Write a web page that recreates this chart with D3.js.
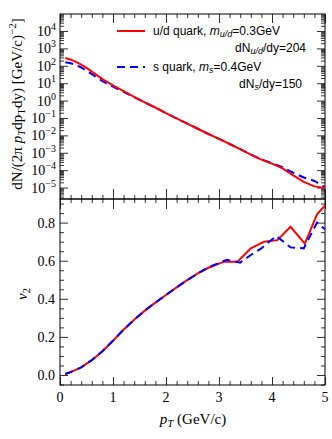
<!DOCTYPE html>
<html>
<head>
<meta charset="utf-8">
<script src="https://cdn.jsdelivr.net/npm/d3@7"></script>
<style>
  body { margin: 0; background: #fff; }
  svg { display: block; }
  .serif { font-family: "Liberation Serif", "Times New Roman", serif; }
  .sans { font-family: "Liberation Sans", Arial, sans-serif; }
</style>
</head>
<body>
<svg id="chart" width="332" height="439"></svg>
<script>
// spectra
var ptSpec = [0.1, 0.2, 0.3, 0.4, 0.5, 0.6, 0.8, 1.0, 1.2, 1.4, 1.6, 1.8, 2.0, 2.2, 2.4, 2.6,
    2.8, 3.0, 3.2, 3.4, 3.6, 3.8, 4.0, 4.2, 4.4, 4.6, 4.8, 5.0];
var specUD = [280, 225, 170, 118, 76, 46, 17, 7.6, 3.5, 1.66, 0.79, 0.40, 0.19, 0.095, 0.048, 0.024,
    0.012, 6.3e-3, 3.2e-3, 1.6e-3, 7.9e-4, 4.0e-4, 2.4e-4, 1.26e-4, 5.0e-5, 2.1e-5, 1.17e-5, 9.3e-6];
var specS = [160, 140, 112, 80, 52, 33, 13, 6.3, 3.2, 1.55, 0.77, 0.39, 0.19, 0.094, 0.048, 0.024,
    0.012, 6.3e-3, 3.2e-3, 1.6e-3, 8.0e-4, 4.1e-4, 2.5e-4, 1.5e-4, 7.1e-5, 3.8e-5, 2.4e-5, 1.07e-5];

// elliptic flow, lower panel
var ptV2UD = [0.1, 0.2, 0.4, 0.6, 0.8, 1.0, 1.2, 1.4, 1.6, 1.8, 2.0, 2.2, 2.4, 2.6, 2.8, 3.0,
    3.1, 3.35, 3.6, 3.85, 4.1, 4.35, 4.62, 4.85, 5.0];
var v2UD = [0.005, 0.015, 0.04, 0.078, 0.125, 0.18, 0.238, 0.29, 0.338, 0.38, 0.42, 0.46, 0.498, 0.533, 0.563, 0.585,
    0.595, 0.595, 0.665, 0.70, 0.708, 0.778, 0.69, 0.844, 0.89];
var ptV2S = [0.1, 0.2, 0.4, 0.6, 0.8, 1.0, 1.2, 1.4, 1.6, 1.8, 2.0, 2.2, 2.4, 2.6, 2.8, 3.0,
    3.15, 3.4, 3.6, 3.8, 4.08, 4.35, 4.6, 4.85, 5.0];
var v2S = [0.005, 0.015, 0.04, 0.078, 0.125, 0.18, 0.238, 0.29, 0.338, 0.38, 0.42, 0.46, 0.498, 0.533, 0.565, 0.588,
    0.605, 0.59, 0.63, 0.665, 0.73, 0.67, 0.665, 0.80, 0.765];

var decades = [-5, -4, -3, -2, -1, 0, 1, 2, 3, 4];
var v2Ticks = [0.0, 0.2, 0.4, 0.6, 0.8];
var xTicks = [0, 1, 2, 3, 4, 5];

var svg = d3.select('#chart');

var left = 60, right = 325, top1 = 14, mid = 199, bot = 385;

var x = d3.scaleLinear().domain([0, 5]).range([left, right]);
var yLog = d3.scaleLog().domain([2.2e-6, 9.5e4]).range([mid, top1]);
var yV2 = d3.scaleLinear().domain([-0.0525, 0.924]).range([bot, mid]);

var xMinor = d3.range(0, 5.01, 0.2).filter(function (d) { return Math.abs(d - Math.round(d)) > 0.01; });
var logMinor = [];
decades.concat([-6]).forEach(function (e) {
    for (var k = 2; k <= 9; k++) {
        var v = k * Math.pow(10, e);
        if (v > 2.2e-6 && v < 9.5e4) logMinor.push(v);
    }
});
var v2Minor = d3.range(-0.05, 0.92, 0.05).filter(function (d) {
    return Math.abs(d * 5 - Math.round(d * 5)) > 0.01;
});

function styleAxis(g) {
    g.select('.domain').remove();
    g.selectAll('line').attr('stroke', '#333').attr('stroke-width', 1);
}

// x tick axes helper
function xAxes(y, dir, major, minor) {
    var mk = dir === 'up' ? d3.axisTop : d3.axisBottom;
    svg.append('g').attr('transform', 'translate(0,' + y + ')')
        .call(mk(x).tickValues(xTicks).tickSize(major).tickFormat('')).call(styleAxis);
    svg.append('g').attr('transform', 'translate(0,' + y + ')')
        .call(mk(x).tickValues(xMinor).tickSize(minor).tickFormat('')).call(styleAxis);
}
// top frame ticks (pointing down into the panel)
xAxes(top1, 'up', -9, -4);
// shared boundary: ticks on both sides
xAxes(mid, 'up', 10, 4);
xAxes(mid, 'down', 10, 4);
// bottom frame ticks (pointing up)
xAxes(bot, 'down', -8, -4);

// y axes, left and right
function yAxes(scale, major, minor) {
    svg.append('g').attr('transform', 'translate(' + left + ',0)')
        .call(d3.axisLeft(scale).tickValues(major).tickSize(-8).tickFormat('')).call(styleAxis);
    svg.append('g').attr('transform', 'translate(' + left + ',0)')
        .call(d3.axisLeft(scale).tickValues(minor).tickSize(-4).tickFormat('')).call(styleAxis);
    svg.append('g').attr('transform', 'translate(' + right + ',0)')
        .call(d3.axisRight(scale).tickValues(major).tickSize(-8).tickFormat('')).call(styleAxis);
    svg.append('g').attr('transform', 'translate(' + right + ',0)')
        .call(d3.axisRight(scale).tickValues(minor).tickSize(-4).tickFormat('')).call(styleAxis);
}
yAxes(yLog, decades.map(function (e) { return Math.pow(10, e); }), logMinor);
yAxes(yV2, v2Ticks, v2Minor);

// frames
svg.append('rect').attr('x', left).attr('y', top1).attr('width', right - left).attr('height', mid - top1)
    .attr('fill', 'none').attr('stroke', '#000').attr('stroke-width', 1);
svg.append('rect').attr('x', left).attr('y', mid).attr('width', right - left).attr('height', bot - mid)
    .attr('fill', 'none').attr('stroke', '#000').attr('stroke-width', 1);

// tick labels
var logLab = svg.append('g').attr('class', 'serif').selectAll('text')
    .data(decades).enter().append('text')
    .attr('x', 56)
    .attr('y', function (d) { return yLog(Math.pow(10, d)) + 5; })
    .attr('text-anchor', 'end')
    .attr('font-size', 14)
    .attr('fill', '#000');
logLab.append('tspan').text('10');
logLab.append('tspan').attr('dy', -6).attr('font-size', 10)
    .text(function (d) { return d < 0 ? '\u2212' + (-d) : d; });

svg.append('g').attr('class', 'serif').selectAll('text')
    .data(v2Ticks).enter().append('text')
    .attr('x', 55)
    .attr('y', function (d) { return yV2(d) + 5; })
    .attr('text-anchor', 'end')
    .attr('font-size', 14)
    .text(function (d) { return d3.format('.1f')(d); });

svg.append('g').attr('class', 'serif').selectAll('text')
    .data(xTicks).enter().append('text')
    .attr('x', function (d) { return x(d); })
    .attr('y', 402)
    .attr('text-anchor', 'middle')
    .attr('font-size', 14)
    .text(function (d) { return d; });

// axis titles
var xt = svg.append('text').attr('class', 'serif')
    .attr('x', 193).attr('y', 424).attr('text-anchor', 'middle').attr('font-size', 15);
xt.append('tspan').attr('font-style', 'italic').text('p');
xt.append('tspan').attr('font-style', 'italic').attr('font-size', 11).attr('dy', 3).text('T');
xt.append('tspan').attr('dy', -3).text(' (GeV/c)');

var yt = svg.append('text').attr('class', 'serif')
    .attr('transform', 'translate(22,104) rotate(-90)')
    .attr('text-anchor', 'middle').attr('font-size', 15);
yt.append('tspan').text('dN/(2\u03c0 ');
yt.append('tspan').attr('font-style', 'italic').text('p');
yt.append('tspan').attr('font-style', 'italic').attr('font-size', 11).attr('dy', 3).text('T');
yt.append('tspan').attr('dy', -3).text('dp');
yt.append('tspan').attr('font-size', 11).attr('dy', 3).text('T');
yt.append('tspan').attr('dy', -3).text('dy) [GeV/c)');
yt.append('tspan').attr('font-size', 11).attr('dy', -6).text('\u22122');
yt.append('tspan').attr('dy', 6).text(']');

var vt = svg.append('text').attr('class', 'serif')
    .attr('transform', 'translate(27,294) rotate(-90)')
    .attr('text-anchor', 'middle').attr('font-size', 15);
vt.append('tspan').attr('font-style', 'italic').text('v');
vt.append('tspan').attr('font-size', 11).attr('dy', 3).text('2');

// curves
var lineLog = function (xs) {
    return d3.line().x(function (d, i) { return x(xs[i]); }).y(function (d) { return yLog(d); });
};
var lineV2 = function (xs) {
    return d3.line().x(function (d, i) { return x(xs[i]); }).y(function (d) { return yV2(d); });
};

var plot = svg.append('g');
plot.append('path').datum(specS).attr('d', lineLog(ptSpec))
    .attr('fill', 'none').attr('stroke', '#0000ff').attr('stroke-width', 2).attr('stroke-dasharray', '8,5');
plot.append('path').datum(specUD).attr('d', lineLog(ptSpec))
    .attr('fill', 'none').attr('stroke', '#ff0000').attr('stroke-width', 2);
plot.append('path').datum(v2UD).attr('d', lineV2(ptV2UD))
    .attr('fill', 'none').attr('stroke', '#ff0000').attr('stroke-width', 2);
plot.append('path').datum(v2S).attr('d', lineV2(ptV2S))
    .attr('fill', 'none').attr('stroke', '#0000ff').attr('stroke-width', 2).attr('stroke-dasharray', '8,5');

// legend
var leg = svg.append('g').attr('class', 'sans').attr('font-size', 12);
leg.append('line').attr('x1', 117).attr('x2', 145).attr('y1', 31).attr('y2', 31)
    .attr('stroke', '#ff0000').attr('stroke-width', 2);
var t1 = leg.append('text').attr('x', 153).attr('y', 35);
t1.append('tspan').text('u/d quark, ');
t1.append('tspan').attr('font-style', 'italic').text('m');
t1.append('tspan').attr('font-style', 'italic').attr('font-size', 9).attr('dy', 2).text('u/d');
t1.append('tspan').attr('dy', -2).text('=0.3GeV');
var t2 = leg.append('text').attr('x', 306).attr('y', 52).attr('text-anchor', 'end');
t2.append('tspan').text('dN');
t2.append('tspan').attr('font-style', 'italic').attr('font-size', 9).attr('dy', 2).text('u/d');
t2.append('tspan').attr('dy', -2).text('/dy=204');

leg.append('line').attr('x1', 117).attr('x2', 145).attr('y1', 67).attr('y2', 67)
    .attr('stroke', '#0000ff').attr('stroke-width', 2).attr('stroke-dasharray', '8,5');
var t3 = leg.append('text').attr('x', 153).attr('y', 71);
t3.append('tspan').text('s quark, ');
t3.append('tspan').attr('font-style', 'italic').text('m');
t3.append('tspan').attr('font-style', 'italic').attr('font-size', 9).attr('dy', 2).text('s');
t3.append('tspan').attr('dy', -2).text('=0.4GeV');
var t4 = leg.append('text').attr('x', 302).attr('y', 88).attr('text-anchor', 'end');
t4.append('tspan').text('dN');
t4.append('tspan').attr('font-style', 'italic').attr('font-size', 9).attr('dy', 2).text('s');
t4.append('tspan').attr('dy', -2).text('/dy=150');
</script>
</body>
</html>
